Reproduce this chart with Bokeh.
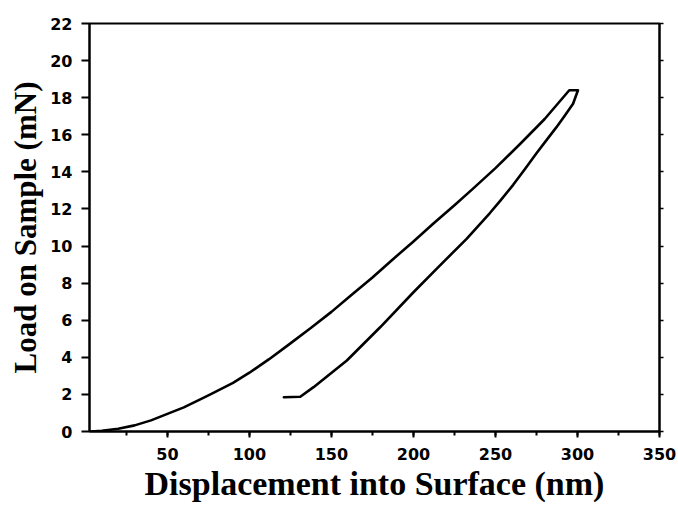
from bokeh.plotting import figure
from bokeh.models import Range1d, LinearAxis, SingleIntervalTicker, CustomLabelingPolicy
from bokeh.embed import file_html
from bokeh.resources import INLINE

# Loading segment (displacement nm, load mN)
load_x = [3, 10, 20, 30, 40, 50, 60, 75, 90, 100, 112, 125, 137, 150, 162, 175, 187, 200, 212, 225, 237, 250, 265, 280, 295]
load_y = [0, 0.04, 0.15, 0.33, 0.6, 0.95, 1.3, 1.95, 2.62, 3.17, 3.9, 4.75, 5.55, 6.45, 7.35, 8.3, 9.25, 10.25, 11.2, 12.2, 13.15, 14.2, 15.5, 16.85, 18.4]
# Hold at peak load
hold_x = [295, 300.3]
hold_y = [18.4, 18.4]
# Unloading segment
unload_x = [300.3, 297.3, 292, 287.2, 281, 275, 268, 260.8, 253, 246.6, 232.4, 215, 200, 179.7, 159.4, 139.1, 131, 121]
unload_y = [18.4, 17.67, 17.0, 16.41, 15.7, 15.0, 14.15, 13.3, 12.45, 11.78, 10.39, 8.85, 7.51, 5.62, 3.83, 2.39, 1.87, 1.85]

x_label = "Displacement into Surface (nm)"
y_label = "Load on Sample (mN)"

xs = load_x + hold_x[1:] + unload_x[1:]
ys = load_y + hold_y[1:] + unload_y[1:]

p = figure(width=678, height=505, output_backend="svg", toolbar_location=None,
           x_range=Range1d(2.5, 350), y_range=Range1d(0, 22),
           min_border_left=89, min_border_right=17, min_border_top=23, min_border_bottom=74)
p.grid.visible = False
p.outline_line_color = "black"
p.outline_line_width = 2
p.background_fill_color = "white"
p.border_fill_color = "white"

p.line(xs, ys, line_color="black", line_width=2.6, line_join="round", line_cap="round")

xa = p.xaxis[0]
xa.ticker = SingleIntervalTicker(interval=50, num_minor_ticks=2)
xa.axis_label = x_label
xa.axis_label_text_font = "Liberation Serif"
xa.axis_label_text_font_style = "bold"
xa.axis_label_text_font_size = "34px"
xa.axis_label_text_color = "black"
xa.axis_label_standoff = 2
xa.major_label_text_font = "DejaVu Sans"
xa.major_label_text_font_style = "bold"
xa.major_label_text_font_size = "16px"
xa.major_label_text_color = "black"
xa.major_label_standoff = 10
xa.axis_line_width = 2
xa.major_tick_line_width = 2
xa.minor_tick_line_width = 2
xa.major_tick_out = 6
xa.major_tick_in = 0
xa.minor_tick_out = 4
xa.minor_tick_in = 0

ya = p.yaxis[0]
ya.ticker = SingleIntervalTicker(interval=2, num_minor_ticks=0)
ya.axis_label = y_label
ya.axis_label_text_font = "Liberation Serif"
ya.axis_label_text_font_style = "bold"
ya.axis_label_text_font_size = "31px"
ya.axis_label_text_color = "black"
ya.axis_label_standoff = 4
ya.major_label_text_font = "DejaVu Sans"
ya.major_label_text_font_style = "bold"
ya.major_label_text_font_size = "16px"
ya.major_label_text_color = "black"
ya.major_label_standoff = 9
ya.axis_line_width = 2
ya.major_tick_line_width = 2
ya.major_tick_out = 8
ya.major_tick_in = 0
ya.minor_tick_line_color = None

ra = LinearAxis(ticker=SingleIntervalTicker(interval=2, num_minor_ticks=0),
                major_label_policy=CustomLabelingPolicy(code="return []"))
ra.major_label_standoff = 0
ra.axis_line_width = 2
ra.major_tick_line_width = 1.5
ra.major_tick_out = 4
ra.major_tick_in = 0
ra.minor_tick_line_color = None
p.add_layout(ra, "right")

open("out.html", "w").write(file_html(p, INLINE))
